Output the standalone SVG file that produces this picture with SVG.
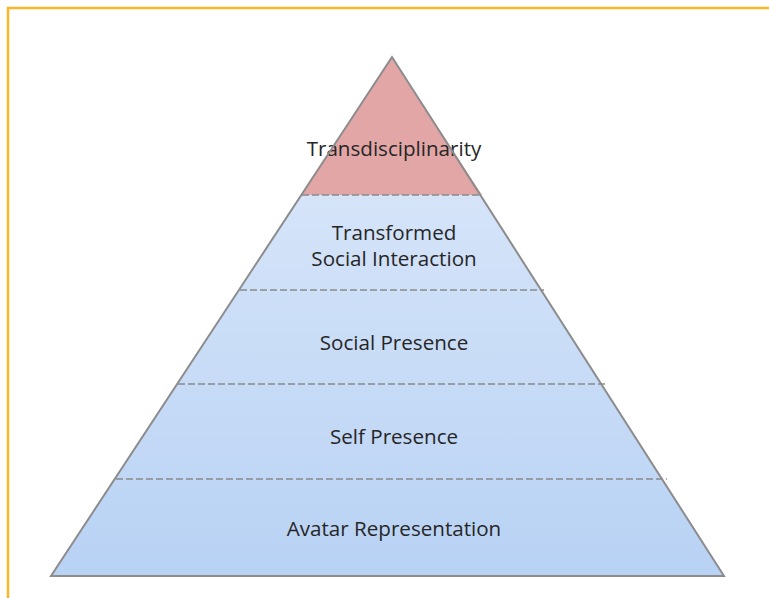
<svg xmlns="http://www.w3.org/2000/svg" width="769" height="598" viewBox="0 0 769 598">
<defs>
<linearGradient id="blue" x1="0" y1="195" x2="0" y2="576" gradientUnits="userSpaceOnUse">
<stop offset="0" stop-color="#d5e4f9"/>
<stop offset="1" stop-color="#b8d2f4"/>
</linearGradient>
<style>
.lbl{font-family:"Open Sans","Liberation Sans",sans-serif;font-size:20.6px;fill:#262626;text-anchor:middle}
.dash{stroke:#8a8a8a;stroke-width:1.6;stroke-dasharray:7 3;fill:none}
.edge{stroke:#8c8c8c;stroke-width:2;fill:none;stroke-linejoin:miter}
</style>
</defs>
<rect width="769" height="598" fill="#ffffff"/>
<path d="M8 598 V8 H769" fill="none" stroke="#fbb62a" stroke-width="2.5"/>
<g id="layer-base">
<polygon points="392,57 51,576 724,576" fill="url(#blue)"/>
</g>
<g id="node-transdisciplinarity">
<polygon points="392,57 302,195 482,195" fill="#e2a6a6"/>
<text class="lbl" x="394" y="156">Transdisciplinarity</text>
</g>
<g id="node-transformed">
<text class="lbl" x="394" y="240">Transformed</text>
<text class="lbl" x="394" y="266">Social Interaction</text>
</g>
<g id="node-social">
<text class="lbl" x="394" y="350">Social Presence</text>
</g>
<g id="node-self">
<text class="lbl" x="394" y="444">Self Presence</text>
</g>
<g id="node-avatar">
<text class="lbl" x="394" y="536">Avatar Representation</text>
</g>
<g id="connectors">
<line class="dash" x1="302" y1="195" x2="482" y2="195"/>
<line class="dash" x1="240" y1="290" x2="544" y2="290"/>
<line class="dash" x1="178" y1="384" x2="605" y2="384"/>
<line class="dash" x1="116" y1="479" x2="667" y2="479"/>
<polygon class="edge" points="392,57 51,576 724,576"/>
</g>
</svg>
